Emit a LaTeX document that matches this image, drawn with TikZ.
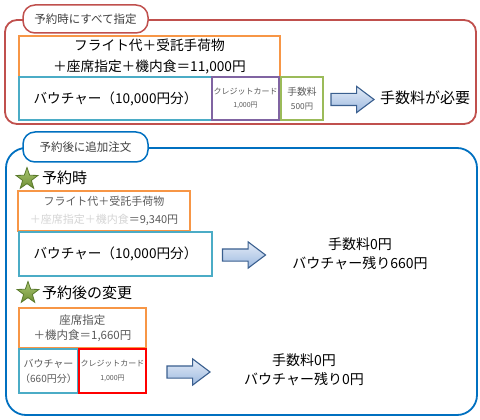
\documentclass[tikz,border=0pt]{standalone}
\usepackage{fontspec}
\setmainfont{Noto Sans CJK JP}
\usetikzlibrary{shapes.geometric,shapes.arrows}
\definecolor{frameRed}{HTML}{C0504D}
\definecolor{frameBlue}{HTML}{0070C0}
\definecolor{boxOrange}{HTML}{F79646}
\definecolor{boxAqua}{HTML}{4BACC6}
\definecolor{boxPurple}{HTML}{8064A2}
\definecolor{boxGreen}{HTML}{9BBB59}
\definecolor{boxRed}{HTML}{FF0000}
\definecolor{arrLine}{HTML}{3A5F8F}
\definecolor{arrTop}{HTML}{E4ECF7}
\definecolor{arrBot}{HTML}{9DB9E0}
\definecolor{starTop}{HTML}{AAC771}
\definecolor{starBot}{HTML}{6E8E35}
\definecolor{starLine}{HTML}{5A7A2C}
\definecolor{tabText}{HTML}{404040}
\definecolor{softText}{HTML}{595959}
\definecolor{fadeText}{HTML}{D4D4D4}
\newcommand{\fs}[2]{\fontsize{#1}{#2}\selectfont}
\begin{document}
\begin{tikzpicture}[x=1pt,y=-1pt,
  frame/.style={draw, line width=1.8pt, inner sep=0pt},
  tab/.style={draw, fill=white, line width=1.5pt, rounded corners=12pt, text=tabText,
    font=\fs{11.5}{14}, minimum width=125pt, inner sep=0pt},
  box/.style={draw, line width=1.4pt, inner sep=0pt, align=center},
  bigarrow/.style={single arrow, draw=arrLine, line width=1.1pt, top color=arrTop, bottom color=arrBot,
    inner xsep=0pt, inner ysep=5.5pt, single arrow head extend=7pt, single arrow tip angle=74,
    minimum height=43pt, minimum width=25pt},
  gstar/.style={star, star points=5, star point ratio=2.5, top color=starTop, bottom color=starBot,
    draw=starLine, line width=0.8pt, minimum size=23pt, inner sep=0pt},
  result/.style={align=center, font=\fs{14}{19}},
  heading/.style={anchor=west, font=\fs{15}{18}, inner sep=0pt}
]
\useasboundingbox (0,0) rectangle (480,420);

% ---- section 1 ----
\node[frame, draw=frameRed, rounded corners=12pt, minimum width=471pt, minimum height=104pt] (frameA) at (240.5,72) {};
\node[tab, draw=frameRed, minimum height=28pt] (tabA) at (85.5,19) {予約時にすべて指定};
\node[box, draw=boxOrange, minimum width=261pt, minimum height=41pt, font=\fs{13.7}{21.5}] (totalA) at (149.5,56.5)
  {フライト代＋受託手荷物\\＋座席指定＋機内食＝11,000円};
\node[box, draw=boxAqua, minimum width=193pt, minimum height=43pt, font=\fs{13.6}{16}] (voucherA) at (115.5,98.5)
  {バウチャー（10,000円分）};
\node[box, draw=boxPurple, minimum width=67pt, minimum height=43pt, font=\fs{8}{13}, text=softText] (cardA) at (245.5,98.5)
  {クレジットカード\\{\fs{7}{8}1,000円}};
\node[box, draw=boxGreen, minimum width=42pt, minimum height=43pt, font=\fs{9.8}{14}, text=softText] (feeA) at (302,98.5)
  {手数料\\{\fs{8.3}{10}500円}};
\node[bigarrow] (arrowA) at (348.5,99.5) {};
\node[result, font=\fs{15}{18}] (resultA) at (425,98) {手数料が必要};

% ---- section 2 ----
\node[frame, draw=frameBlue, rounded corners=20pt, minimum width=471pt, minimum height=267pt] (frameB) at (241.5,281.5) {};
\node[tab, draw=frameBlue, minimum height=30pt] (tabB) at (85.5,147) {予約後に追加注文};

\node[gstar] (starB) at (27,179) {};
\node[heading] (headB) at (42,178) {予約時};
\node[box, draw=boxOrange, minimum width=172pt, minimum height=40pt, font=\fs{11}{17.5}, text=softText] (totalB) at (104,211)
  {フライト代＋受託手荷物\\{\color{fadeText}＋座席指定＋機内食}＝9,340円};
\node[box, draw=boxAqua, minimum width=193pt, minimum height=44pt, font=\fs{13.6}{16}] (voucherB) at (115.5,254)
  {バウチャー（10,000円分）};
\node[bigarrow] (arrowB) at (240,255) {};
\node[result] (resultB) at (360,254) {手数料0円\\バウチャー残り660円};

\node[gstar] (starC) at (28,293) {};
\node[heading] (headC) at (42,293) {予約後の変更};
\node[box, draw=boxOrange, minimum width=127pt, minimum height=40pt, font=\fs{11.5}{15}, text=softText] (totalC) at (82.5,328)
  {座席指定\\＋機内食＝1,660円};
\node[box, draw=boxAqua, minimum width=59pt, minimum height=44pt, font=\fs{10}{15}, text=softText] (voucherC) at (48.5,371)
  {バウチャー\\（660円分）};
\node[box, draw=boxRed, minimum width=67pt, minimum height=44pt, font=\fs{8}{14}, text=softText] (cardC) at (112.5,371)
  {クレジットカード\\{\fs{7}{8}1,000円}};
\node[bigarrow] (arrowC) at (184.5,372) {};
\node[result] (resultC) at (304,370) {手数料0円\\バウチャー残り0円};
\end{tikzpicture}
\end{document}
